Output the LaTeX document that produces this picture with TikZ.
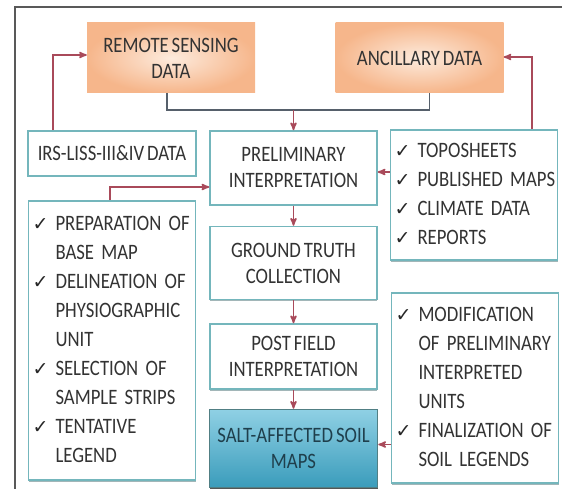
\documentclass[tikz,border=0pt]{standalone}
\usepackage{fontspec}
\setmainfont[FakeStretch=0.85,WordSpace=0.7]{Carlito}
\newfontfamily\chkfont{DejaVu Sans}
\usepackage{tikz}
\usetikzlibrary{arrows,positioning,shapes,shadows}
\definecolor{peach}{HTML}{FDEBDD}
\definecolor{orng}{HTML}{F6B68B}
\definecolor{tealbd}{HTML}{74B6BC}
\definecolor{flow}{HTML}{A94A5A}
\definecolor{joint}{HTML}{56606B}
\definecolor{saltlt}{HTML}{8FD0E4}
\definecolor{saltdk}{HTML}{3A9CBB}
\definecolor{txt}{HTML}{333333}
\definecolor{salttxt}{HTML}{1F3F4C}
\newcommand{\ck}{\makebox[23pt][l]{\chkfont\fontsize{19}{19}\selectfont\color{black!85}✓}}
\tikzset{
    %Define standard arrow tip
    >=stealth',
    %Define style for data boxes
    source/.style={
    rectangle,
    inner color=peach,
    outer color=orng,
    minimum width=168pt,
    minimum height=70pt,
    align=center,
    text=txt
    },
    %Define style for process boxes
    process/.style={
    rectangle,
    draw=tealbd, line width=1.5pt,
    fill=white,
    drop shadow={shadow xshift=0pt,shadow yshift=-1.5pt,fill=tealbd!60!black,opacity=.5},
    minimum width=167pt,
    align=center,
    text=txt
    },
    listbox/.style={
    process,
    align=left,
    text width=159pt,
    inner sep=4pt,
    font=\fontsize{22}{29}\selectfont
    },
    salt/.style={
    process,
    draw=tealbd!70!black,
    top color=saltlt,
    bottom color=saltdk,
    drop shadow={shadow xshift=0pt,shadow yshift=-2pt,fill=black!75,opacity=.8},
    text=salttxt
    },
    % Define arrow style
    pil/.style={
    ->,
    draw=flow,
    line width=1.6pt},
}
\begin{document}
\begin{tikzpicture}[x=1pt,y=-1pt,node distance=20pt,font=\fontsize{22}{26}\selectfont]
\useasboundingbox (0,0) rectangle (562,489);
%frame
\draw[black!65, line width=2.5pt] (15,495) -- (15,7) -- (570,7);
%nodes
\node[source](1) at (171,58){REMOTE SENSING\\DATA};
\node[source](2) at (419.5,58){ANCILLARY DATA};
\node[process, minimum height=45pt, minimum width=168pt](3) at (112,153.5){IRS-LISS-III\&IV DATA};
\node[process, minimum height=74pt](4) at (293.5,168){PRELIMINARY\\INTERPRETATION};
\node[process, minimum height=73pt, below=of 4](7){GROUND TRUTH\\COLLECTION};
\node[process, minimum height=65pt, below=23pt of 7](8){POST FIELD\\INTERPRETATION};
\node[salt, minimum height=78pt, minimum width=168pt, below=19pt of 8](9){SALT-AFFECTED SOIL\\MAPS};
\node[listbox, minimum height=130pt](5) at (474,195){%
\begin{tabular}{@{}l@{}l@{}}
\ck & TOPOSHEETS\\
\ck & PUBLISHED MAPS\\
\ck & CLIMATE DATA\\
\ck & REPORTS
\end{tabular}};
\node[listbox, minimum height=279pt](6) at (112,340.5){%
\begin{tabular}{@{}l@{}l@{}}
\ck & PREPARATION OF\\
 & BASE MAP\\
\ck & DELINEATION OF\\
 & PHYSIOGRAPHIC\\
 & UNIT\\
\ck & SELECTION OF\\
 & SAMPLE STRIPS\\
\ck & TENTATIVE\\
 & LEGEND
\end{tabular}};
\node[listbox, minimum height=190pt](10) at (475,388){%
\begin{tabular}{@{}l@{}l@{}}
\ck & MODIFICATION\\
 & OF PRELIMINARY\\
 & INTERPRETED\\
 & UNITS\\
\ck & FINALIZATION OF\\
 & SOIL LEGENDS
\end{tabular}};
%arrows
\coordinate (j) at (293.5,110);
\draw[joint, line width=1.8pt] ([xshift=-4pt]1.south) |- (j) -| ([xshift=10pt]2.south);
\draw[pil] (j) -- (4);
\draw[pil] ([xshift=-59pt]3.north) |- ([yshift=3pt]1.west);
\draw[pil] ([xshift=58pt]5.north) |- ([yshift=1pt]2.east);
\draw[pil] ([yshift=23pt]5.west) -- ([yshift=23pt]5.west -| 4.east);
\draw[pil] ([xshift=-2pt]6.north) |- ([yshift=-19pt]4.west);
\draw[pil] (4) -- (7);
\draw[pil] (7) -- (8);
\draw[pil] (8) -- (9);
\draw[pil] ([yshift=4pt]9.east -| 10.west) -- ([yshift=4pt]9.east);
\end{tikzpicture}
\end{document}
